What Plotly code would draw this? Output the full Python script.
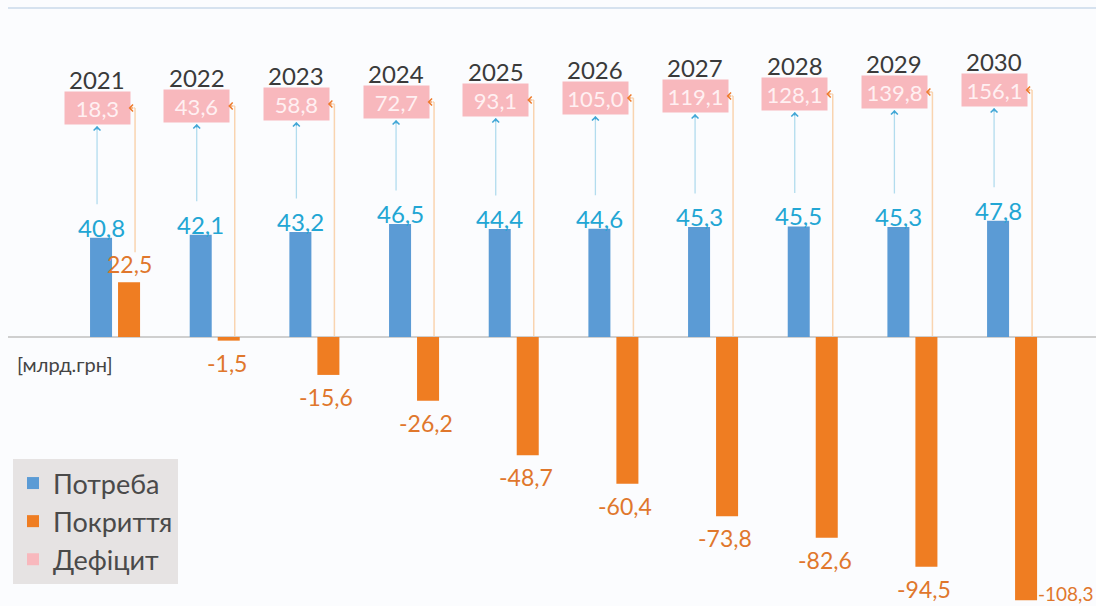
import plotly.graph_objects as go

# ---- data (млрд грн) ----
years = [2021, 2022, 2023, 2024, 2025, 2026, 2027, 2028, 2029, 2030]
need = [40.8, 42.1, 43.2, 46.5, 44.4, 44.6, 45.3, 45.5, 45.3, 47.8]
coverage = [22.5, -1.5, -15.6, -26.2, -48.7, -60.4, -73.8, -82.6, -94.5, -108.3]
deficit = [18.3, 43.6, 58.8, 72.7, 93.1, 105.0, 119.1, 128.1, 139.8, 156.1]
series_names = ["Потреба", "Покриття", "Дефіцит"]
unit_label = "[млрд.грн]"

# ---- layout constants ----
W, H = 1096, 606
M_L, M_T = 8, 8
PW, PH = W - M_L, H - M_T
X_RANGE = [2019.926, 2030.842]
Y_RANGE = [-110.7, 135.4]

FONT = "Lato, 'Open Sans', sans-serif"
C_BLUE = "#5b9bd5"
C_ORANGE = "#ef7d22"
C_PINK = "#f8b8bd"
C_BLUE_TXT = "#22a6d4"
C_ORANGE_TXT = "#e0772c"
C_BG = "#fbfcfe"

BOX_DX = -18      # label box offset from category centre, px
BAR_DX = 14       # half-distance between the paired bars, px
LINK_DX = 20      # connector line offset, px
BOX_W, BOX_H = 65, 32


def y_px(v):
    return M_T + (Y_RANGE[1] - v) / (Y_RANGE[1] - Y_RANGE[0]) * PH


def px_y(p):
    return Y_RANGE[1] - (p - M_T) / PH * (Y_RANGE[1] - Y_RANGE[0])


def fmt(v):
    return f"{v:.1f}".replace(".", ",")


fig = go.Figure()
fig.add_trace(go.Bar(x=years, y=need, name=series_names[0],
                     marker=dict(color=C_BLUE, line=dict(width=0))))
fig.add_trace(go.Bar(x=years, y=coverage, name=series_names[1],
                     marker=dict(color=C_ORANGE, line=dict(width=0))))
fig.add_trace(go.Scatter(x=[None], y=[None], mode="markers", name=series_names[2],
                         marker=dict(symbol="square", size=14, color=C_PINK)))

annotations = []
shapes = []

for i, yr in enumerate(years):
    box_c = 108 - 2 * i          # vertical centre of the deficit box, px
    box_top, box_bot = box_c - BOX_H / 2, box_c + BOX_H / 2

    # deficit box
    annotations.append(dict(
        x=yr, xshift=BOX_DX, y=px_y(box_c), yanchor="middle", xanchor="center",
        text=fmt(deficit[i]), showarrow=False,
        width=BOX_W - 4, height=BOX_H - 4, borderpad=2, bgcolor=C_PINK,
        font=dict(family=FONT, size=22, color="#fff0f2")))
    # year caption
    annotations.append(dict(
        x=yr, xshift=BOX_DX, y=px_y(box_top), yanchor="bottom", yshift=-4,
        text=str(yr), showarrow=False,
        font=dict(family=FONT, size=24, color="#3a3a3a")))

    # need label
    annotations.append(dict(
        x=yr, xshift=-BAR_DX, y=need[i], yanchor="bottom", yshift=-6,
        text=fmt(need[i]), showarrow=False,
        font=dict(family=FONT, size=24, color=C_BLUE_TXT)))

    # arrow from need label up to the deficit box
    tail = y_px(need[i]) - 32
    head = box_bot + 2
    annotations.append(dict(
        x=yr, xshift=BOX_DX, y=px_y(head), text="", showarrow=True,
        axref="pixel", ayref="pixel", ax=0, ay=tail - head,
        arrowhead=0, arrowwidth=1.3, arrowcolor="#b2dcee"))
    annotations.append(dict(
        x=yr, xshift=BOX_DX, y=px_y(head), text="", showarrow=True,
        axref="pixel", ayref="pixel", ax=0, ay=5,
        arrowhead=4, arrowsize=1.1, arrowwidth=1.2, arrowcolor="#3fa6d6"))

    # coverage label
    cv = coverage[i]
    if cv >= 0:
        annotations.append(dict(
            x=yr, xshift=BAR_DX, y=cv, yanchor="bottom", yshift=2,
            text=fmt(cv), showarrow=False,
            font=dict(family=FONT, size=23, color=C_ORANGE_TXT)))
        link_bottom = px_y(y_px(cv) - 30)
    else:
        if y_px(cv) + 30 > H:
            # no room under the bar: put the value beside it
            annotations.append(dict(
                x=yr, xshift=BAR_DX + 11, y=cv, yanchor="bottom", xanchor="left",
                yshift=-6, text=fmt(cv), showarrow=False, borderpad=0,
                font=dict(family=FONT, size=19, color=C_ORANGE_TXT)))
        else:
            annotations.append(dict(
                x=yr, xshift=BAR_DX - 2, y=cv, yanchor="top", yshift=-6,
                text=fmt(cv), showarrow=False,
                font=dict(family=FONT, size=23, color=C_ORANGE_TXT)))
        link_bottom = 0

    # connector from coverage bar up to the deficit box
    shapes.append(dict(
        type="line", xref="x", xsizemode="pixel", xanchor=yr,
        x0=LINK_DX, x1=LINK_DX, yref="y", y0=px_y(box_c), y1=link_bottom,
        line=dict(color="#f9d4b0", width=1.5), layer="below"))
    shapes.append(dict(
        type="line", xref="x", xsizemode="pixel", xanchor=yr,
        x0=LINK_DX, x1=BOX_DX + BOX_W / 2 + 4, yref="y", y0=px_y(box_c), y1=px_y(box_c),
        line=dict(color="#f9d4b0", width=1.5), layer="below"))
    annotations.append(dict(
        x=yr, xshift=BOX_DX + BOX_W / 2 - 1, y=px_y(box_c), text="", showarrow=True,
        axref="pixel", ayref="pixel", ax=6, ay=0,
        arrowhead=4, arrowsize=1.1, arrowwidth=1.2, arrowcolor="#ee7a2a"))

# unit caption
annotations.append(dict(
    xref="paper", yref="paper", x=(15 - M_L) / PW, y=1 - (364 - M_T) / PH,
    xanchor="left", yanchor="middle", text=unit_label, showarrow=False,
    font=dict(family=FONT, size=20, color="#444444")))

# top rule
shapes.append(dict(type="line", xref="paper", yref="paper", x0=0, x1=1, y0=1, y1=1,
                   line=dict(color="#d6e2ef", width=2)))

fig.update_layout(
    width=W, height=H,
    margin=dict(l=M_L, r=0, t=M_T, b=0, pad=0),
    paper_bgcolor=C_BG, plot_bgcolor=C_BG,
    barmode="group", bargap=0.438, bargroupgap=0.214,
    showlegend=True,
    legend=dict(
        x=(13 - M_L) / PW, y=1 - (459 - M_T) / PH, xanchor="left", yanchor="top",
        bgcolor="#e6e3e3", borderwidth=0,
        font=dict(family=FONT, size=27, color="#4a4a4a"),
        itemsizing="constant", itemwidth=30, tracegroupgap=0),
    xaxis=dict(range=X_RANGE, visible=False, fixedrange=True),
    yaxis=dict(range=Y_RANGE, showgrid=False, showticklabels=False, ticks="",
               zeroline=True, zerolinecolor="#cfcfcf", zerolinewidth=2, fixedrange=True),
    annotations=annotations, shapes=shapes,
    hovermode=False,
)

fig.write_html("out.html", config={"displayModeBar": False})
